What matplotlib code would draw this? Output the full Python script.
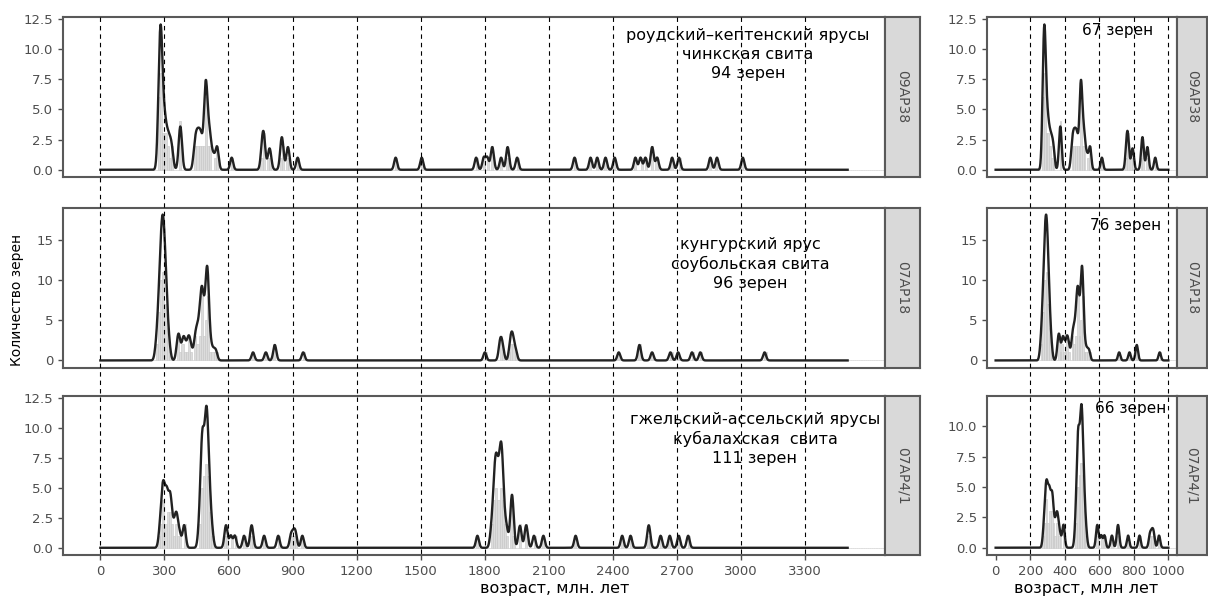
import numpy as np
import matplotlib
matplotlib.use("Agg")
import matplotlib.pyplot as plt
from matplotlib.lines import Line2D
from matplotlib.ticker import MultipleLocator, FormatStrFormatter
from matplotlib.transforms import blended_transform_factory

# U-Pb ages of single zircon grains (Ma)
ages_09AP38 = [271, 274, 275, 277, 278, 279, 280, 281, 283, 284, 285, 286, 287, 288, 290, 293,
               298, 300, 303, 308, 313, 318, 324, 330, 337,
               370, 373, 376, 379,
               440, 446, 451, 456, 461, 466, 471, 476,
               486, 489, 491, 493, 494, 495, 497, 499, 504,
               508, 513, 518, 530, 544, 549,
               615, 756, 761, 765, 769, 789, 796,
               846, 850, 854, 876, 881, 924,
               1383, 1505, 1760, 1796, 1812, 1833, 1838, 1877, 1905, 1910, 1952,
               2221, 2296, 2327, 2366, 2409, 2506, 2530, 2553, 2582, 2587, 2608,
               2678, 2710, 2857, 2888, 3009]

ages_07AP18 = [260, 266, 270, 272, 274, 276, 278, 279, 280, 281, 283, 284, 285, 286, 287,
               288, 288, 289, 290, 291, 292, 293, 294, 295, 296, 296, 297, 298, 299, 300,
               301, 303, 304, 305, 306, 308, 310, 312, 314, 318, 324,
               360, 364, 368, 372, 385, 389, 393, 401, 410, 414, 418, 426,
               440, 446, 449, 452, 458, 461, 463, 467, 471, 471, 473, 475, 475, 477, 479, 479,
               484, 486, 488, 493, 493, 497, 497, 499, 500, 501, 501, 502, 503, 504, 504,
               508, 513, 520, 531, 542,
               715, 775, 815, 819, 950,
               1801, 1870, 1874, 1879, 1886, 1918, 1923, 1927, 1931, 1936, 1946,
               2428, 2523, 2527, 2584, 2670, 2706, 2771, 2810, 3111]

ages_07AP41 = [278, 285, 289, 292, 295, 295, 299, 304, 308, 310, 313, 316, 322, 326, 328, 330, 336,
               345, 352, 357, 361, 372, 390, 395,
               462, 468, 472, 472, 476, 476, 476, 480, 480, 480, 484, 484, 488, 492, 492, 492,
               496, 496, 496, 498, 500, 500, 500, 504, 504, 508, 510, 512, 516, 524,
               586, 591, 611, 630, 673, 706, 711, 767, 833, 893, 905, 915, 946,
               1766, 1830, 1838, 1843, 1843, 1848, 1848, 1853, 1853, 1853, 1858, 1858,
               1863, 1863, 1868, 1868, 1873, 1873, 1877, 1877, 1877, 1881, 1881, 1885, 1885,
               1890, 1897, 1905, 1922, 1926, 1929, 1929, 1933, 1962, 1968, 1992, 1997, 2031, 2075,
               2226, 2444, 2483, 2566, 2571, 2624, 2667, 2709, 2753]

samples = ["09AP38", "07AP18", "07AP4/1"]
all_ages = [ages_09AP38, ages_07AP18, ages_07AP41]
notes_left = ["роудский–кептенский ярусы\nчинкская свита\n94 зерен",
              "кунгурский ярус\nсоубольская свита\n96 зерен",
              "гжельский-ассельский ярусы\nкубалахская  свита\n111 зерен"]
notes_right = ["67 зерен", "76 зерен", "66 зерен"]

ylims_left = [(-0.6, 12.64), (-0.94, 18.94), (-0.6, 12.63)]
ylims_right = [(-0.6, 12.64), (-0.94, 18.94), (-0.6, 12.49)]
ystep = [2.5, 5, 2.5]
yfmt = ["%.1f", "%d", "%.1f"]

vlines_left = np.arange(0, 3301, 300)
vlines_right = np.arange(200, 1001, 200)

BW = 7.0      # kernel width, Ma
BINW = 10     # histogram bin width, Ma


def kde_count(ages, grid):
    a = np.asarray(ages, dtype=float)[:, None]
    return np.exp(-0.5 * ((grid[None, :] - a) / BW) ** 2).sum(axis=0)


W, H = 1208, 599
fig = plt.figure(figsize=(W / 100, H / 100), dpi=100)
fig.patch.set_facecolor("white")


def px_axes(x0, y0, x1, y1):
    return fig.add_axes([x0 / W, 1 - y1 / H, (x1 - x0) / W, (y1 - y0) / H])


rows = [(17, 177), (208, 368), (396, 555)]
cols = [dict(x0=63, x1=885, s1=920, xmax=3500, xlim=(-175, 3675), ticks=np.arange(0, 3301, 300),
             hist_end=3680, ylims=ylims_left),
        dict(x0=987, x1=1177, s1=1207, xmax=1000, xlim=(-50, 1050), ticks=np.arange(0, 1001, 200),
             hist_end=1060, ylims=ylims_right)]

frame = "#595959"
tickc = "#4d4d4d"
axes_grid = [[None] * 3 for _ in cols]

for c, col in enumerate(cols):
    grid = np.linspace(0, col["xmax"], 3000)
    for r, (y0, y1) in enumerate(rows):
        ax = px_axes(col["x0"], y0, col["x1"], y1)
        axes_grid[c][r] = ax
        ages = [a for a in all_ages[r] if a <= col["xmax"]]
        ax.hist(ages, bins=np.arange(0, col["hist_end"], BINW), color="#dcdcdc",
                edgecolor="#c4c4c4", linewidth=0.4, zorder=1)
        ax.plot(grid, kde_count(ages, grid), color="#222222", lw=1.7, zorder=3,
                solid_joinstyle="round")
        ax.set_xticks(col["ticks"])
        ax.set_xlim(*col["xlim"])
        ax.set_ylim(*col["ylims"][r])
        ax.yaxis.set_major_locator(MultipleLocator(ystep[r]))
        ax.yaxis.set_major_formatter(FormatStrFormatter(yfmt[r]))
        ax.tick_params(axis="both", colors=tickc, labelsize=9.5, length=3.5, width=1,
                       labelcolor=tickc)
        if r < 2:
            ax.tick_params(axis="x", bottom=False, labelbottom=False)
        for sp in ax.spines.values():
            sp.set_color(frame)
            sp.set_linewidth(1.5)
        # facet strip
        st = px_axes(col["x1"], y0, col["s1"], y1)
        st.set_facecolor("#d9d9d9")
        st.set_xticks([])
        st.set_yticks([])
        for sp in st.spines.values():
            sp.set_color(frame)
            sp.set_linewidth(1.5)
        st.text(0.5, 0.5, samples[r], rotation=270, ha="center", va="center",
                fontsize=10, color="#4d4d4d", transform=st.transAxes)

    # dashed reference lines running through all three panels
    trans = blended_transform_factory(axes_grid[c][0].transData, fig.transFigure)
    vl = vlines_left if c == 0 else vlines_right
    for v in vl:
        fig.add_artist(Line2D([v, v], [1 - 17 / H, 1 - 555 / H], transform=trans,
                              color="black", lw=0.8, dashes=(4, 3.6), zorder=5))

# sample descriptions
note_pos = [(748, 28), (750, 237), (755, 412)]
for r, (x, y) in enumerate(note_pos):
    fig.text(x / W, 1 - y / H, notes_left[r], ha="center", va="top", fontsize=11.5,
             linespacing=1.32, color="black")
right_pos = [(1118, 30), (1126, 225), (1131, 408)]
for r, (x, y) in enumerate(right_pos):
    fig.text(x / W, 1 - y / H, notes_right[r], ha="center", va="center", fontsize=11,
             color="black")

fig.text(17 / W, 1 - 300 / H, "Количество зерен", rotation=90, ha="center", va="center",
         fontsize=10, color="black")
fig.text(555 / W, 1 - 589 / H, "возраст, млн. лет", ha="center", va="center",
         fontsize=11.5, color="black")
fig.text(1086 / W, 1 - 589 / H, "возраст, млн лет", ha="center", va="center",
         fontsize=11.5, color="black")

fig.savefig("out.png", dpi=100)
